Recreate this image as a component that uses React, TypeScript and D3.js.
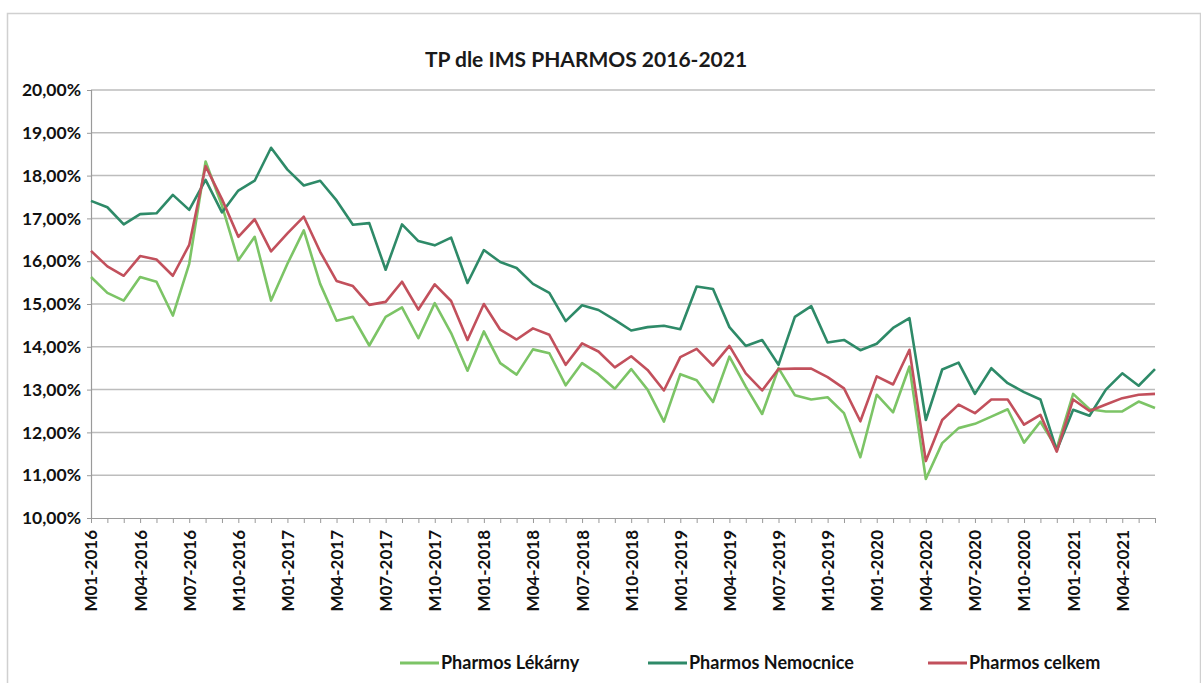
import React, { useRef, useEffect } from 'react';
import * as d3 from 'd3';

const WIDTH = 1201;
const HEIGHT = 683;

const years = [2016, 2017, 2018, 2019, 2020, 2021];
// months M01-2016 .. M06-2021
const months: string[] = [];
years.forEach((y) => {
  for (let m = 1; m <= 12; m++) {
    if (y === 2021 && m > 6) break;
    months.push(`M${m < 10 ? '0' + m : m}-${y}`);
  }
});

const lekarny = [
  15.63, 15.26, 15.08, 15.63, 15.52, 14.73, 15.94, 18.33, 17.3, 16.02, 16.57, 15.08,
  15.94, 16.72, 15.47, 14.61, 14.7, 14.03, 14.7, 14.92, 14.2, 15.02, 14.32, 13.44,
  14.36, 13.62, 13.35, 13.94, 13.85, 13.1, 13.62, 13.36, 13.02, 13.48, 13.0, 12.25,
  13.36, 13.22, 12.71, 13.77, 13.07, 12.43, 13.5, 12.87, 12.77, 12.82, 12.45, 11.42,
  12.88, 12.47, 13.54, 10.91, 11.75, 12.1, 12.2, 12.37, 12.54, 11.76, 12.25, 11.63,
  12.9, 12.54, 12.49, 12.49, 12.72, 12.57,
];

const nemocnice = [
  17.41, 17.26, 16.86, 17.1, 17.12, 17.55, 17.2, 17.9, 17.14, 17.65, 17.88, 18.65,
  18.14, 17.77, 17.88, 17.42, 16.85, 16.89, 15.8, 16.86, 16.47, 16.37, 16.55, 15.49,
  16.26, 15.98, 15.84, 15.47, 15.26, 14.6, 14.97, 14.86, 14.63, 14.38, 14.46, 14.49,
  14.41, 15.41, 15.35, 14.46, 14.02, 14.16, 13.58, 14.7, 14.95, 14.1, 14.16, 13.92,
  14.07, 14.44, 14.67, 12.29, 13.47, 13.63, 12.9, 13.5, 13.15, 12.94, 12.77, 11.58,
  12.53, 12.39, 13.0, 13.38, 13.09, 13.48,
];

const celkem = [
  16.24, 15.88, 15.66, 16.12, 16.04, 15.66, 16.38, 18.22, 17.45, 16.57, 16.98, 16.23,
  16.65, 17.04, 16.22, 15.54, 15.42, 14.98, 15.05, 15.52, 14.87, 15.46, 15.07, 14.16,
  15.0, 14.4, 14.17, 14.43, 14.28, 13.58, 14.08, 13.89, 13.52, 13.78, 13.46, 12.98,
  13.76, 13.95, 13.56, 14.02, 13.38, 12.98, 13.48, 13.49, 13.49, 13.29, 13.03, 12.26,
  13.31, 13.12, 13.93, 11.33, 12.29, 12.65, 12.45, 12.77, 12.77, 12.18, 12.41, 11.55,
  12.77, 12.5, 12.65, 12.8, 12.88, 12.9,
];

const seriesNames = ['Pharmos Lékárny', 'Pharmos Nemocnice', 'Pharmos celkem'];
const seriesColors = ['#7cc466', '#2e8a68', '#c2505c'];
const yTicks = [10, 11, 12, 13, 14, 15, 16, 17, 18, 19, 20];

const FONT = 'Lato, "Open Sans", sans-serif';

function App() {
  const svgRef = useRef<SVGSVGElement>(null);

  useEffect(() => {
    const svg = d3.select(svgRef.current);
    svg.selectAll('*').remove();

    const margin = { left: 91, right: 46, top: 90, bottom: 165 };
    const innerW = WIDTH - margin.left - margin.right;
    const innerH = HEIGHT - margin.top - margin.bottom;

    // frame
    svg
      .append('rect')
      .attr('x', 7.5)
      .attr('y', 13.5)
      .attr('width', WIDTH - 8)
      .attr('height', HEIGHT - 10)
      .attr('fill', '#fff')
      .attr('stroke', '#d0d0d0')
      .attr('stroke-width', 1.5);

    svg
      .append('text')
      .attr('x', 586)
      .attr('y', 67)
      .attr('text-anchor', 'middle')
      .style('font-family', FONT)
      .style('font-weight', 'bold')
      .style('font-size', '21px')
      .attr('fill', '#1a1a1a')
      .text('TP dle IMS PHARMOS 2016-2021');

    const g = svg
      .append('g')
      .attr('transform', `translate(${margin.left},${margin.top})`);

    const xScale = d3
      .scalePoint<string>()
      .domain(months)
      .range([0, innerW]);

    const yScale = d3.scaleLinear().domain([10, 20]).range([innerH, 0]);

    // gridlines
    g.selectAll('.grid')
      .data(yTicks.slice(1))
      .join('line')
      .attr('class', 'grid')
      .attr('x1', 0)
      .attr('x2', innerW)
      .attr('y1', (d) => yScale(d))
      .attr('y2', (d) => yScale(d))
      .attr('stroke', '#bdbdbd')
      .attr('stroke-width', 1.5);

    // y axis
    const yAxis = d3
      .axisLeft(yScale)
      .tickValues(yTicks)
      .tickSize(4)
      .tickFormat((d) => (d as number).toFixed(2).replace('.', ',') + '%');
    const yG = g.append('g').call(yAxis);
    yG.select('.domain').attr('stroke', '#9a9a9a').attr('stroke-width', 1.2);
    yG.selectAll('.tick line').attr('stroke', '#9a9a9a');
    yG.selectAll('.tick text')
      .attr('x', -10)
      .style('font-family', FONT)
      .style('font-weight', 'bold')
      .style('font-size', '17.5px')
      .attr('fill', '#111');

    // x axis
    const xAxis = d3
      .axisBottom(xScale)
      .tickSize(5)
      .tickSizeOuter(0)
      .tickFormat((d, i) => (i % 3 === 0 ? (d as string) : ''));
    const xG = g.append('g').attr('transform', `translate(0,${innerH})`).call(xAxis);
    xG.select('.domain').attr('stroke', '#9a9a9a').attr('stroke-width', 1.2);
    xG.selectAll('.tick line').attr('stroke', '#9a9a9a');
    xG.selectAll('.tick text')
      .attr('transform', 'rotate(-90)')
      .attr('x', -12)
      .attr('y', 0)
      .attr('dy', '0.35em')
      .attr('text-anchor', 'end')
      .style('font-family', FONT)
      .style('font-weight', 'bold')
      .style('font-size', '17px')
      .attr('fill', '#111');

    // lines
    const allSeries = [lekarny, nemocnice, celkem];
    const line = d3
      .line<number>()
      .x((d, i) => xScale(months[i]) as number)
      .y((d) => yScale(d));

    g.selectAll('.series')
      .data(allSeries)
      .join('path')
      .attr('class', 'series')
      .attr('d', (d) => line(d))
      .attr('fill', 'none')
      .attr('stroke', (d, i) => seriesColors[i])
      .attr('stroke-width', 2.6)
      .attr('stroke-linejoin', 'round');

    // legend
    const legendX = [400, 648, 928];
    const legend = svg
      .selectAll('.legend')
      .data(seriesNames)
      .join('g')
      .attr('class', 'legend')
      .attr('transform', (d, i) => `translate(${legendX[i]},663)`);
    legend
      .append('line')
      .attr('x1', 0)
      .attr('x2', 39)
      .attr('y1', 0)
      .attr('y2', 0)
      .attr('stroke', (d, i) => seriesColors[i])
      .attr('stroke-width', 3);
    legend
      .append('text')
      .attr('x', 41)
      .attr('y', 0)
      .attr('dy', '0.35em')
      .style('font-family', FONT)
      .style('font-weight', 'bold')
      .style('font-size', '18px')
      .attr('fill', '#111')
      .text((d) => d);
  }, []);

  return (
    <svg
      ref={svgRef}
      width={WIDTH}
      height={HEIGHT}
      style={{ position: 'absolute', left: 0, top: 0, background: '#fff' }}
    />
  );
}

export default App;
